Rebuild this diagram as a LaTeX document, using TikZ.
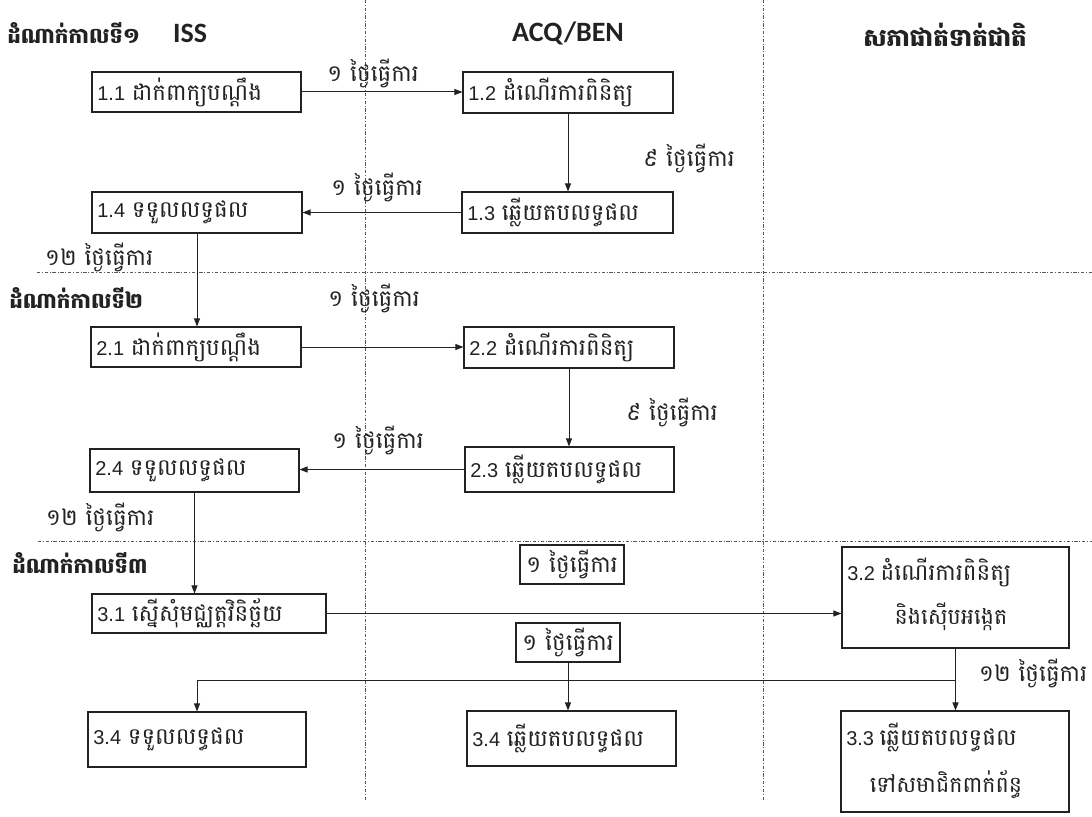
\documentclass[tikz,border=0pt]{standalone}
\usepackage{fontspec}
\setmainfont{Liberation Sans}
\newfontfamily\kh[Script=Khmer,Scale=1.15]{Battambang}
\newfontfamily\calfont{Carlito}
\usetikzlibrary{arrows.meta}
\definecolor{ink}{HTML}{222222}
\begin{document}
\begin{tikzpicture}[x=0.75pt,y=-0.75pt,
  every node/.style={text=ink},
  bx/.style 2 args={draw=ink, line width=0.8pt, minimum width=#1, minimum height=#2, inner sep=0pt, text width=#1-8pt, align=left, font=\fontsize{15}{17}\selectfont},
  frame/.style 2 args={draw=ink, line width=0.8pt, minimum width=#1, minimum height=#2, inner sep=0pt},
  lbl/.style={font=\fontsize{15}{17}\selectfont\kh, inner sep=1pt},
  stg/.style={font=\fontsize{14}{16}\selectfont\kh\bfseries, anchor=west, inner sep=0pt},
  ttl/.style={font=\fontsize{21}{23}\selectfont\calfont\bfseries, inner sep=0pt},
  arr/.style={draw=ink, line width=0.75pt, -{Triangle[length=6pt,width=4.5pt]}},
  dd/.style={draw=ink!75, line width=0.6pt, dash pattern=on 2.5pt off 1.3pt on 0.7pt off 1.3pt}]
\useasboundingbox (0,0) rectangle (1092,817);
% swimlane dividers
\draw[dd] (365,0) -- (365,800);
\draw[dd] (763,0) -- (763,800);
\draw[dd] (37,272) -- (1092,272);
\draw[dd] (38,541) -- (1092,541);
% titles
\node[stg] (s1) at (7,33) {ដំណាក់កាលទី១};
\node[ttl] (tISS) at (190,33) {ISS};
\node[ttl] (tACQ) at (568,33) {ACQ/BEN};
\node[ttl, font=\fontsize{16}{20}\selectfont\kh\bfseries] (tNat) at (945,35) {សភាផាត់ទាត់ជាតិ};
\node[stg] (s2) at (9,298) {ដំណាក់កាលទី២};
\node[stg] (s3) at (12,563) {ដំណាក់កាលទី៣};
% stage 1
\node[bx={156.75pt}{30pt}] (b11) at (196.5,92) {1.1 {\kh ដាក់ពាក្យបណ្ដឹង}};
\node[bx={157.5pt}{30.75pt}] (b12) at (568,92.5) {1.2 {\kh ដំណើរការពិនិត្យ}};
\node[bx={158.25pt}{30.75pt}] (b13) at (567.5,212.5) {1.3 {\kh ឆ្លើយតបលទ្ធផល}};
\node[bx={157.5pt}{30.75pt}] (b14) at (197,212.5) {1.4 {\kh ទទួលលទ្ធផល}};
% stage 2
\node[bx={157.5pt}{30pt}] (b21) at (196,347) {2.1 {\kh ដាក់ពាក្យបណ្ដឹង}};
\node[bx={157.5pt}{30.75pt}] (b22) at (569,347.5) {2.2 {\kh ដំណើរការពិនិត្យ}};
\node[bx={156.75pt}{33.75pt}] (b23) at (569.5,469.5) {2.3 {\kh ឆ្លើយតបលទ្ធផល}};
\node[bx={156.75pt}{32.25pt}] (b24) at (194.5,470.5) {2.4 {\kh ទទួលលទ្ធផល}};
% stage 3
\node[bx={175.5pt}{29.25pt}] (b31) at (209,613.5) {3.1 {\kh ស្នើសុំមជ្ឈត្តវិនិច្ឆ័យ}};
\node[frame={170.25pt}{75.75pt}] (b32) at (955.5,597.5) {};
\node[anchor=west, font=\fontsize{15}{17}\selectfont, inner sep=0pt] (b32a) at (847,572) {3.2 {\kh ដំណើរការពិនិត្យ}};
\node[lbl, font=\fontsize{14.5}{16}\selectfont\kh] (b32b) at (951,617) {និងស៊ើបអង្កេត};
\node[frame={171pt}{75.75pt}] (b33) at (955,761.5) {};
\node[anchor=west, font=\fontsize{15}{17}\selectfont, inner sep=0pt] (b33a) at (846,737) {3.3 {\kh ឆ្លើយតបលទ្ធផល}};
\node[lbl, font=\fontsize{14.5}{16}\selectfont\kh] (b33b) at (946,785) {ទៅសមាជិកពាក់ព័ន្ធ};
\node[bx={163.5pt}{41.25pt}] (b34l) at (197,739.5) {3.4 {\kh ទទួលលទ្ធផល}};
\node[bx={156.75pt}{41.25pt}] (b34m) at (571.5,738.5) {3.4 {\kh ឆ្លើយតបលទ្ធផល}};
\node[frame={78pt}{29.25pt}, lbl] (lt) at (572,564.5) {១ ថ្ងៃធ្វើការ};
\node[frame={78pt}{29.25pt}, lbl] (lb) at (568,642.5) {១ ថ្ងៃធ្វើការ};
% free labels
\node[lbl] (d1) at (373,73) {១ ថ្ងៃធ្វើការ};
\node[lbl] (d2) at (689,158) {៩ ថ្ងៃធ្វើការ};
\node[lbl] (d3) at (377,187) {១ ថ្ងៃធ្វើការ};
\node[lbl] (d4) at (99,257) {១២ ថ្ងៃធ្វើការ};
\node[lbl] (d5) at (374,298) {១ ថ្ងៃធ្វើការ};
\node[lbl] (d6) at (672,412) {៩ ថ្ងៃធ្វើការ};
\node[lbl] (d7) at (378,440) {១ ថ្ងៃធ្វើការ};
\node[lbl] (d8) at (100,517) {១២ ថ្ងៃធ្វើការ};
\node[lbl] (d9) at (1033,673) {១២ ថ្ងៃធ្វើការ};
% connectors
\draw[arr] (b11.east) -- (b11.east -| b12.west);
\draw[arr] (b12.south) -- (b12.south |- b13.north);
\draw[arr] (b13.west) -- (b13.west -| b14.east);
\draw[arr] (b14.south) -- (b14.south |- b21.north);
\draw[arr] (b21.east) -- (b21.east -| b22.west);
\draw[arr] (b22.south) -- (b22.south |- b23.north);
\draw[arr] (b23.west) -- (b23.west -| b24.east);
\draw[arr] (b24.south) -- (b24.south |- b31.north);
\draw[arr] (b31.east) -- (b31.east -| b32.west);
\draw[arr] (b32.south) -- (b32.south |- b33.north);
\coordinate (br) at (b32.south |- 0,680);
\draw[arr] (br) -| (b34l.north);
\draw[arr] (lb.south) -- (lb.south |- b34m.north);
\end{tikzpicture}
\end{document}
